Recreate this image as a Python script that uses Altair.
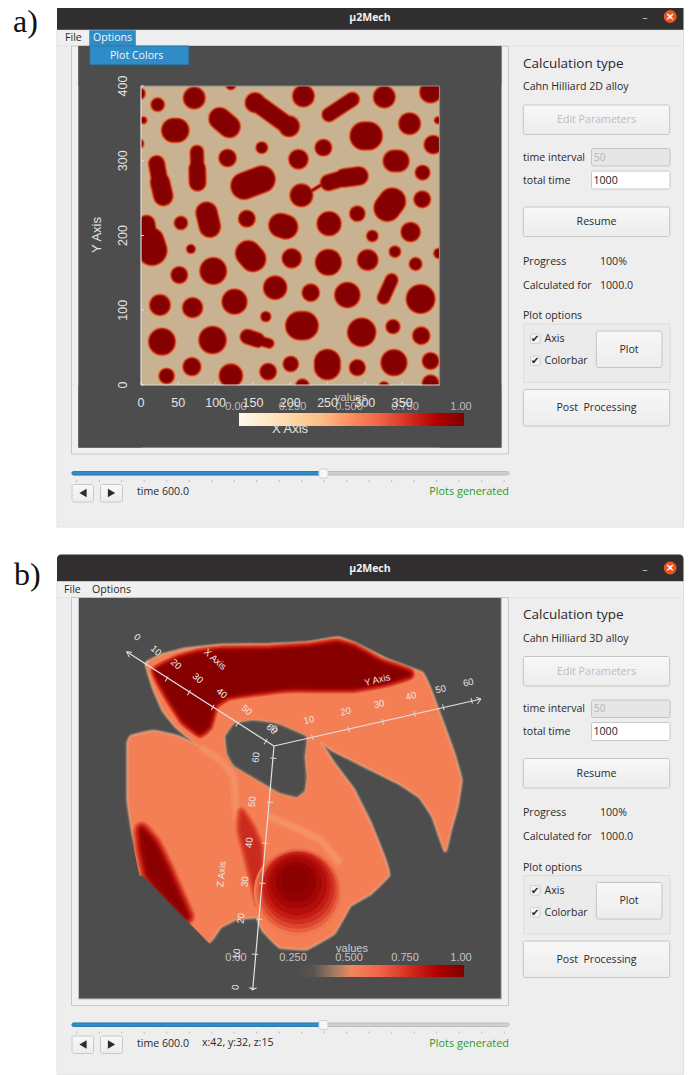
import altair as alt
import pandas as pd
import math

# ---------- shared screen scale ----------
SX = alt.Scale(domain=[8, 684], range=[0, 676])
SY = alt.Scale(domain=[8, 1075], range=[0, 1067])
MX = alt.Scale(domain=[0, 400], range=[133, 431.5])
MY = alt.Scale(domain=[0, 400], range=[377, 78])

DARK = "#4d4d4d"
WIN = "#eeeeee"
BLUE = "#308cc6"
UI = "Open Sans"
FS = 10.6

layers = []

def rects(x1, x2, y1, y2, fill, stroke, sw=1, radius=0, dy=0):
    df = pd.DataFrame({"x": x1, "x2": x2, "y": [v + dy for v in y1], "y2": [v + dy for v in y2],
                       "f": fill, "s": stroke})
    layers.append(alt.Chart(df).mark_rect(strokeWidth=sw, cornerRadius=radius).encode(
        x=alt.X("x:Q", scale=SX, axis=None), x2="x2:Q",
        y=alt.Y("y:Q", scale=SY, axis=None), y2="y2:Q",
        fill=alt.Fill("f:N", scale=None), stroke=alt.Stroke("s:N", scale=None)))

def texts(label, x, y, size, color, align="left", font=UI, weight="normal", angle=None, dy=0):
    df = pd.DataFrame({"t": label, "x": x, "y": [v + dy for v in y], "z": size, "c": color,
                       "a": angle if angle is not None else [0] * len(label)})
    layers.append(alt.Chart(df).mark_text(align=align, baseline="middle", font=font, fontWeight=weight).encode(
        x=alt.X("x:Q", scale=SX, axis=None), y=alt.Y("y:Q", scale=SY, axis=None),
        text="t:N", size=alt.Size("z:Q", scale=None), color=alt.Color("c:N", scale=None),
        angle=alt.Angle("a:Q", scale=None)))

def gradient_rect(x1, x2, y1, y2, stops, vertical=False, stroke=None, radius=0, dy=0):
    df = pd.DataFrame({"x": x1, "x2": x2, "y": [v + dy for v in y1], "y2": [v + dy for v in y2]})
    grad = alt.LinearGradient(gradient="linear",
                              stops=[alt.GradientStop(color=c, offset=o) for o, c in stops],
                              x1=0, x2=0 if vertical else 1, y1=0, y2=1 if vertical else 0)
    kw = {"stroke": stroke, "strokeWidth": 1} if stroke else {}
    layers.append(alt.Chart(df).mark_rect(color=grad, cornerRadius=radius, **kw).encode(
        x=alt.X("x:Q", scale=SX, axis=None), x2="x2:Q",
        y=alt.Y("y:Q", scale=SY, axis=None), y2="y2:Q"))

def poly(px, py, fill, stroke=None, sw=0, opacity=1, interp="cardinal-closed"):
    df = pd.DataFrame({"x": px, "y": py, "i": range(len(px))})
    kw = {"fill": fill, "stroke": stroke if stroke else fill, "strokeWidth": sw, "opacity": opacity,
          "interpolate": interp, "strokeJoin": "round"}
    if interp.startswith("cardinal"):
        kw["tension"] = 0.75
    layers.append(alt.Chart(df).mark_line(**kw).encode(
        x=alt.X("x:Q", scale=SX, axis=None), y=alt.Y("y:Q", scale=SY, axis=None), order="i:Q"))

def soft(px, py, fill, passes):
    for w, c in passes:
        poly(px, py, fill, c, w)

def segs(x1, y1, x2, y2, color, w, cap="butt"):
    df = pd.DataFrame({"x": x1, "y": y1, "x2": x2, "y2": y2})
    layers.append(alt.Chart(df).mark_rule(color=color, strokeWidth=w, strokeCap=cap).encode(
        x=alt.X("x:Q", scale=SX, axis=None), x2="x2:Q",
        y=alt.Y("y:Q", scale=SY, axis=None), y2="y2:Q"))

# ---------- window furniture ----------
btn_x1 = [523.3, 523.3, 523.3]
btn_x2 = [669.7, 669.7, 669.7]
btn_y1 = [207, 389.5, 105]
btn_y2 = [236.5, 426, 134.5]
tick_xs = [76.7, 99.2, 121.7, 144.2, 166.7, 189.2, 211.7, 234.2, 256.7, 279.2,
           301.7, 324.2, 346.7, 369.2, 391.7, 414.2, 436.7, 459.2, 481.7, 504.2]
ORRD = [(0, "#fff7ec"), (.125, "#fee8c8"), (.25, "#fdd49e"), (.375, "#fdbb84"), (.5, "#fc8d59"),
        (.625, "#ef6548"), (.75, "#d7301f"), (.875, "#b30000"), (1, "#7f0000")]
ORRD_B = [(0, DARK), (.25, DARK), (.33, "#5a5350"), (.42, "#a07a62"), (.5, "#f0875c"), (.625, "#ef6548"),
          (.75, "#d7301f"), (.875, "#b30000"), (1, "#7f0000")]
BTN = [(0, "#f8f8f8"), (1, "#ececec")]


def window_back(dy, bottom):
    rects([57], [683.5], [30 + dy], [bottom], [WIN], ["#e2e2e2"])
    df = pd.DataFrame({"x": [57], "x2": [683.5], "y": [3 + dy], "y2": [30 + dy], "f": ["#302e2e"]})
    layers.append(alt.Chart(df).mark_rect(cornerRadiusTopLeft=4, cornerRadiusTopRight=4).encode(
        x=alt.X("x:Q", scale=SX, axis=None), x2="x2:Q",
        y=alt.Y("y:Q", scale=SY, axis=None), y2="y2:Q", fill=alt.Fill("f:N", scale=None)))
    rects([57], [683.5], [30 + dy], [46 + dy], ["#efefef"], ["#d8d8d8"], sw=0.5)
    rects([71.5], [508.5], [46 + dy], [454 + dy], ["#f0f0f0"], ["#c8c8c8"])
    rects([78.5], [501.3], [46 + dy], [447.5 + dy], [DARK], ["#c0c0c0"])


def window_front(dy, kind, extra_time):
    texts(["\u00b52Mech"], [370], [17.5], [10.5], ["#f2f2f2"], "center", weight="bold", dy=dy)
    texts(["\u2013"], [645], [18], [10], ["#cfcfcf"], "center", dy=dy)
    df = pd.DataFrame({"x": [670.2], "y": [16.5 + dy]})
    layers.append(alt.Chart(df).mark_point(shape="circle", filled=True, size=165, color="#e95420", opacity=1).encode(
        x=alt.X("x:Q", scale=SX, axis=None), y=alt.Y("y:Q", scale=SY, axis=None)))
    texts(["\u00d7"], [670.2], [16.5], [11], ["#ffffff"], "center", font="DejaVu Sans", weight="bold", dy=dy)
    texts(["Calculation type"], [523], [63.5], [13.5], ["#2a2a2a"], dy=dy)
    texts([f"Cahn Hilliard {kind} alloy", "time interval", "total time", "Progress", "100%",
           "Calculated for", "1000.0", "Plot options", "time 600.0"] + ([extra_time] if extra_time else []),
          [523, 523, 523, 523, 600, 523, 600, 523, 137] + ([202] if extra_time else []),
          [87, 157.5, 180.5, 261.5, 261.5, 285.5, 285.5, 316, 492] + ([491] if extra_time else []),
          [FS] * (9 + (1 if extra_time else 0)), ["#2a2a2a"] * (9 + (1 if extra_time else 0)), dy=dy)
    rects([591.5, 591.5], [670, 670], [148.5, 171], [166, 189], ["#e6e6e6", "#ffffff"], ["#c4c4c4", "#c8c8c8"],
          radius=1.5, dy=dy)
    texts(["50"], [594], [157.5], [10], ["#b5b5b5"], dy=dy)
    texts(["1000"], [593.5], [180.5], [FS], ["#202020"], dy=dy)
    gradient_rect(btn_x1, btn_x2, btn_y1, btn_y2, BTN, vertical=True, stroke="#c4c4c4", radius=2, dy=dy)
    texts(["Resume", "Post\u00a0 Processing"], [596.5, 596.5], [222, 408], [FS] * 2,
          ["#2a2a2a"] * 2, "center", dy=dy)
    texts(["Edit Parameters"], [596.5], [120], [FS], ["#bcbcbc"], "center", dy=dy)
    rects([524], [670], [324], [382.5], ["#ebebeb"], ["#dcdcdc"], dy=dy)
    gradient_rect([596.3], [662], [331], [367.5], BTN, vertical=True, stroke="#c4c4c4", radius=2, dy=dy)
    texts(["Plot"], [629], [349.5], [FS], ["#2a2a2a"], "center", dy=dy)
    rects([530.5, 530.5], [540, 540], [334, 356], [343.5, 365.5], ["#f4f4f4", "#f4f4f4"], ["#cfcfcf", "#cfcfcf"],
          radius=1, dy=dy)
    texts(["\u2714", "\u2714"], [535.2, 535.2], [339, 361], [10, 10], ["#222222", "#222222"], "center",
          font="DejaVu Sans", dy=dy)
    texts(["Axis", "Colorbar"], [544.5, 544.5], [339, 361], [FS, FS], ["#2a2a2a", "#2a2a2a"], dy=dy)
    rects([72], [509], [471.5], [475], ["#d0d0d0"], ["#bdbdbd"], radius=1.5, dy=dy)
    rects([72], [323], [471.5], [475], [BLUE], ["#2b7db3"], radius=1.5, dy=dy)
    rects([319], [328], [469], [478], ["#f6f6f6"], ["#d0d0d0"], radius=2, dy=dy)
    df = pd.DataFrame({"x": tick_xs, "y": [480 + dy] * len(tick_xs), "y2": [482 + dy] * len(tick_xs)})
    layers.append(alt.Chart(df).mark_rule(color="#b8b8b8", strokeWidth=1).encode(
        x=alt.X("x:Q", scale=SX, axis=None), y=alt.Y("y:Q", scale=SY, axis=None), y2="y2:Q"))
    gradient_rect([72, 100.5], [93.5, 122.5], [484.5, 484.5], [502, 502], BTN, vertical=True, stroke="#c8c8c8",
                  radius=2, dy=dy)
    for xc, sh in [(83, "triangle-left"), (111.5, "triangle-right")]:
        df = pd.DataFrame({"x": [xc], "y": [493 + dy]})
        layers.append(alt.Chart(df).mark_point(shape=sh, filled=True, size=70, color="#2b2b2b", opacity=1).encode(
            x=alt.X("x:Q", scale=SX, axis=None), y=alt.Y("y:Q", scale=SY, axis=None)))
    texts(["Plots generated"], [509], [492], [10.9], ["#1f9d1f"], "right", dy=dy)


# ---------- panel a: 2D field, reads are in crop pixels of the two map halves ----------
round_top = [(175,48,65),(65,68,40),(285,8,30),(503,42,65),(746,45,65),(885,30,65),(822,125,65),(22,115,20),
             (907,115,20),(10,35,35),(8,185,30),(378,197,35),(563,197,50),(893,188,55),(275,228,52),(488,232,58),
             (861,272,44),(497,340,68),(860,352,50),(665,395,46),(333,410,50),(135,423,40),(580,425,72),
             (825,450,58),(710,462,34),(358,62,60),(460,133,62)]
long_top = [(358,60,462,135,52),(580,98,650,52,42),(252,110,280,134,66),(113,145,123,145,72),
            (685,162,698,162,84),(775,237,788,237,65),(183,210,184,260,40),(184,260,185,302,50),
            (62,245,72,300,48),(72,300,82,342,58),(325,312,378,292,80),(578,302,625,288,48),
            (625,288,670,282,55),(525,328,555,310,8),(755,378,770,358,80),(212,392,222,434,64),
            (32,425,40,480,50),(40,480,48,505,90),(435,430,450,435,72)]
round_bot = [(165,42,26),(468,70,58),(578,82,78),(696,75,62),(778,50,34),(840,87,38),(130,120,50),(232,108,80),
             (418,158,70),(525,173,52),(635,180,76),(855,192,86),(72,210,62),(170,218,60),(296,200,75),(390,245,30),
             (678,292,85),(772,275,42),(857,302,52),(78,320,80),(230,315,82),(465,387,46),(665,398,48),(775,383,78),
             (885,378,50),(168,395,54),(92,423,46),(285,422,70),(397,410,50),(885,445,50),(500,452,40),(910,55,30),
             (745,455,30)]
long_bot = [(337,55,352,72,76),(768,135,744,188,38),(492,272,505,272,85),(335,305,365,315,44),(365,315,400,325,28),
            (575,382,575,395,78)]

seg_rows = []
for x, y, d in round_top:
    seg_rows.append((x, y, x + 0.05, y, d))
for row in long_top:
    seg_rows.append(row)
for x, y, d in round_bot:
    seg_rows.append((x, y + 459, x + 0.05, y + 459, d))
for x1, y1, x2, y2, d in long_bot:
    seg_rows.append((x1, y1 + 459, x2, y2 + 459, d))

field = pd.DataFrame({
    "x": [r[0] * 0.446 - 6.7 for r in seg_rows],
    "x2": [r[2] * 0.446 - 6.7 for r in seg_rows],
    "y": [405.4 - r[1] * 0.446 for r in seg_rows],
    "y2": [405.4 - r[3] * 0.446 for r in seg_rows],
    "d": [r[4] / 3 for r in seg_rows],
})
halo_extra = [5.0, 3.8, 2.8, 1.8, 0.8, -0.4, -1.8, -3.4]
halo_color = ["#cdb48f", "#d4aa80", "#db9468", "#d9744a", "#cc4a2b", "#ae2010", "#930505", "#850000"]


def panel_a():
    bg = pd.DataFrame({"x": [0], "x2": [400], "y": [0], "y2": [400]})
    layers.append(alt.Chart(bg).mark_rect(color="#c9b291").encode(
        x=alt.X("x:Q", scale=MX, axis=None), x2="x2:Q",
        y=alt.Y("y:Q", scale=MY, axis=None), y2="y2:Q"))
    for extra, col in zip(halo_extra, halo_color):
        d = field.copy()
        d["w"] = (d["d"] + extra).clip(lower=1)
        layers.append(alt.Chart(d).mark_rule(color=col, strokeCap="round").encode(
            x=alt.X("x:Q", scale=MX, axis=None), x2="x2:Q",
            y=alt.Y("y:Q", scale=MY, axis=None), y2="y2:Q",
            size=alt.Size("w:Q", scale=None)))
    rects([78.5, 439.5, 78.5, 78.5], [141, 501.3, 501.3, 501.3], [46, 46, 46, 385.3], [447.5, 447.5, 86, 447.5],
          [DARK] * 4, [DARK] * 4, sw=0)
    xt = [0, 50, 100, 150, 200, 250, 300, 350]
    yt = [0, 100, 200, 300, 400]
    lines = pd.DataFrame({"x": [0, 0, 0, 400], "x2": [400, 0, 400, 400], "y": [0, 0, 400, 0], "y2": [0, 400, 400, 400]})
    for sel, col in [([2, 3], "#8c8c8c"), ([0, 1], "#dcdcdc")]:
        layers.append(alt.Chart(lines.iloc[sel]).mark_rule(color=col, strokeWidth=1.2).encode(
            x=alt.X("x:Q", scale=MX, axis=None), x2="x2:Q",
            y=alt.Y("y:Q", scale=MY, axis=None), y2="y2:Q"))
    layers.append(alt.Chart(pd.DataFrame({"t": xt})).mark_rule(color="#dcdcdc", strokeWidth=1).encode(
        x=alt.X("t:Q", scale=MX, axis=None), y=alt.value(374), y2=alt.value(377)))
    layers.append(alt.Chart(pd.DataFrame({"t": yt})).mark_rule(color="#dcdcdc", strokeWidth=1).encode(
        y=alt.Y("t:Q", scale=MY, axis=None), x=alt.value(133), x2=alt.value(136)))
    gradient_rect([239], [464], [413], [426], ORRD)
    texts(["values"], [351], [398], [11], ["#cfcfcf"], "center", font="Liberation Sans")
    texts(["0.00", "0.250", "0.500", "0.750", "1.00"], [236, 292.5, 349, 405, 461], [407] * 5, [11] * 5,
          ["#bdbdbd"] * 5, "center", font="Liberation Sans")
    layers.append(alt.Chart(pd.DataFrame({"t": xt, "l": [str(v) for v in xt]})).mark_text(
        font="Liberation Sans", fontSize=12.5, color="#e4e4e4", baseline="middle", align="center").encode(
        x=alt.X("t:Q", scale=MX, axis=None), y=alt.value(395), text="l:N"))
    layers.append(alt.Chart(pd.DataFrame({"t": yt, "l": [str(v) for v in yt]})).mark_text(
        font="Liberation Sans", fontSize=12.5, color="#e4e4e4", baseline="middle", align="center", angle=270).encode(
        y=alt.Y("t:Q", scale=MY, axis=None), x=alt.value(115), text="l:N"))
    texts(["X Axis"], [290], [429], [13], ["#e4e4e4"], "center", font="Liberation Sans")
    texts(["Y Axis"], [97], [235], [13], ["#e4e4e4"], "center", font="Liberation Sans", angle=[270])


# ---------- panel b: projected 3D volume, reads in crop pixels ----------
def z(xs, ys):
    return [120 + v / 3 for v in xs], [630 + v / 3 for v in ys]

sil_x = [80,130,200,300,450,560,620,655,700,800,905,930,960,1000,1022,1010,990,975,940,900,840,780,700,640,600,
         640,700,715,750,790,805,750,690,670,640,560,480,430,410,350,300,262,100,70,40,25,25,35,100,170,240,170,130,100]
sil_y = [100,75,58,47,45,40,30,25,40,90,130,180,260,370,450,530,600,660,560,500,460,430,390,360,335,
         400,480,510,580,680,735,790,825,860,910,955,950,900,860,865,890,935,770,735,610,510,340,320,305,320,350,290,240,170]
hole_x = [345,400,470,555,550,555,550,530,480,420,345,325,320]
hole_y = [285,275,285,322,380,440,480,497,485,450,405,370,320]
band_x = [180,240,310,450,570,650,700,780,865,790,700,600,500,400,320,280,262,240,195,150,110]
band_y = [90,74,66,64,56,44,58,102,132,155,170,170,170,182,195,222,285,305,270,200,125]
lobe_x = [65,100,140,175,200,110,85,70]
lobe_y = [600,640,720,800,860,765,730,660]
cut_x = [268,100,66,10,10,268]
cut_y = [942,772,737,760,1000,1000]
strip_x = [365,395,420,425,415,400,380,360]
strip_y = [545,590,650,750,820,760,680,600]
ridge_x = [445,520,600,660]
ridge_y = [560,590,630,700]
ridge2_x = [240,300,340,350]
ridge2_y = [350,390,440,570]
orb_x = [298,298,298,298,297,297,296,296,295]
orb_y = [892,891,890,888,886,885,883,882,880]
orb_r = [50,47,44,41,38,34,29,23,16]
orb_c = ["#ef7a52","#e8603e","#dc4630","#cf2e20","#c21c14","#b40e0a","#a50606","#960202","#8b0000"]

AX = "#e2e2e2"
xax_tick_x = [80,140,207,278,352,437]
xax_tick_y = [100,147,188,232,282,335]
yax_tick_x = [577,686,788,884,970,1055]
yax_tick_y = [322,298,275,252,232,212]
zax_tick_x = [460,450,435,427,418,405,398]
zax_tick_y = [385,517,640,760,868,973,1075]


def panel_b():
    sx, sy = z(sil_x, sil_y)
    soft(sx, sy, "#f47f55", [(7, "#5c5650"), (5.5, "#7d6a5e"), (4, "#a88570"), (2.5, "#d99472"), (1, "#f09070")])
    hx, hy = z(hole_x, hole_y)
    soft(hx, hy, DARK, [(6, "#e8906a"), (4.5, "#b58a70"), (3, "#8a7466"), (1.5, "#62584f")])
    for px, py, op in [(ridge_x, ridge_y, 0.3), (ridge2_x, ridge2_y, 0.25)]:
        rx, ry = z(px, py)
        poly(rx, ry, "none", "#f9a57c", 9, op, "cardinal")
        poly(rx, ry, "none", "#f9a57c", 4, op, "cardinal")
    x, y = z(strip_x, strip_y)
    soft(x, y, "#c92c1e", [(11, "#f0764f"), (8, "#e85a3a"), (5, "#dc442e"), (2, "#d03424")])
    x, y = z(lobe_x, lobe_y)
    soft(x, y, "#8a0000", [(18, "#ea6a48"), (15, "#dd4a30"), (12, "#cc2c1e"), (9, "#b81a10"), (6, "#a40a06"), (3, "#950202")])
    x, y = z(cut_x, cut_y)
    poly(x, y, DARK, DARK, 1, 1, "linear-closed")
    x, y = z(band_x, band_y)
    soft(x, y, "#860000", [(14, "#e8623f"), (12, "#d83e28"), (10, "#c8281a"), (8, "#b5140c"), (6, "#a40906"), (4, "#970303"), (2, "#8d0000")])
    df = pd.DataFrame({"x": orb_x, "y": orb_y, "s": [math.pi * r * r for r in orb_r], "c": orb_c})
    for i in range(len(orb_x)):
        layers.append(alt.Chart(df.iloc[[i]]).mark_point(shape="circle", filled=True, opacity=1).encode(
            x=alt.X("x:Q", scale=SX, axis=None), y=alt.Y("y:Q", scale=SY, axis=None),
            size=alt.Size("s:Q", scale=None), color=alt.Color("c:N", scale=None)))
    gradient_rect([239], [464], [965], [977], ORRD_B)
    texts(["values"], [352], [949], [11], ["#cfcfcf"], "center", font="Liberation Sans")
    texts(["0.00", "0.250", "0.500", "0.750", "1.00"], [236, 293, 349, 405, 461], [958] * 5, [11] * 5,
          ["#c4c4c4"] * 5, "center", font="Liberation Sans")
    ox, oy = z([462], [348])
    ex, ey = z([20, 1083, 398], [65, 207, 1080])
    segs(ox * 3, oy * 3, ex, ey, AX, 1.2)
    bx1, by1 = z([20, 20, 1083, 1083, 398, 398], [65, 65, 207, 207, 1080, 1080])
    bx2, by2 = z([28, 36, 1068, 1072, 388, 410], [82, 67, 202, 222, 1073, 1073])
    segs(bx1, by1, bx2, by2, AX, 1)
    for px, py, ang in [(xax_tick_x, xax_tick_y, 300), (yax_tick_x, yax_tick_y, 75), (zax_tick_x, zax_tick_y, 5)]:
        x, y = z(px, py)
        layers.append(alt.Chart(pd.DataFrame({"x": x, "y": y})).mark_point(
            shape="stroke", size=36, angle=ang, color="#d8d8d8", strokeWidth=1, opacity=1).encode(
            x=alt.X("x:Q", scale=SX, axis=None), y=alt.Y("y:Q", scale=SY, axis=None)))
    lab_font = "Liberation Sans"
    x, y = z([52,108,168,233,305,380,455,285], [22,62,103,145,190,240,297,88])
    texts(["0","10","20","30","40","50","60","X Axis"], x, y, [9.5]*8, ["#e8e8e8"]*8, "center", font=lab_font, angle=[42]*8)
    x, y = z([465,567,677,778,873,962,1045,772], [297,270,245,222,198,178,158,150])
    texts(["0","10","20","30","40","50","60","Y Axis"], x, y, [9.5]*8, ["#e8e8e8"]*8, "center", font=lab_font, angle=[346]*8)
    x, y = z([408,397,388,375,363,350,347,305], [382,515,638,755,865,972,1072,732])
    texts(["60","50","40","30","20","10","0","Z Axis"], x, y, [9.5]*8, ["#e8e8e8"]*8, "center", font=lab_font, angle=[276]*8)


# ---------- assemble ----------
DY = 551.5
window_back(0, 527)
panel_a()
window_front(0, "2D", None)
texts(["File"], [65], [38], [FS], ["#2a2a2a"])
rects([89.5], [135.5], [30.5], [46], [BLUE], ["#2b7db3"], sw=0.5)
texts(["Options"], [93], [38], [FS], ["#f5f5f5"])
rects([90], [188.5], [46], [64.5], [BLUE], ["#2a78ab"])
texts(["Plot Colors"], [110], [55.5], [FS], ["#f5f5f5"])

window_back(DY, 1075)
panel_b()
window_front(DY, "3D", "x:42, y:32, z:15")
texts(["File", "Options"], [64, 92], [38 + DY] * 2, [FS] * 2, ["#2a2a2a"] * 2)

texts(["a)", "b)"], [13, 14], [22, 575], [32, 32], ["#111111", "#111111"], font="Liberation Serif")

chart = alt.layer(*layers).resolve_scale(x="independent", y="independent").properties(
    width=676, height=1067, padding=0, autosize=alt.AutoSizeParams(type="none"),
    background="#ffffff").configure_view(stroke=None)
chart.save("out.html", embed_options={"renderer": "svg", "actions": False})
